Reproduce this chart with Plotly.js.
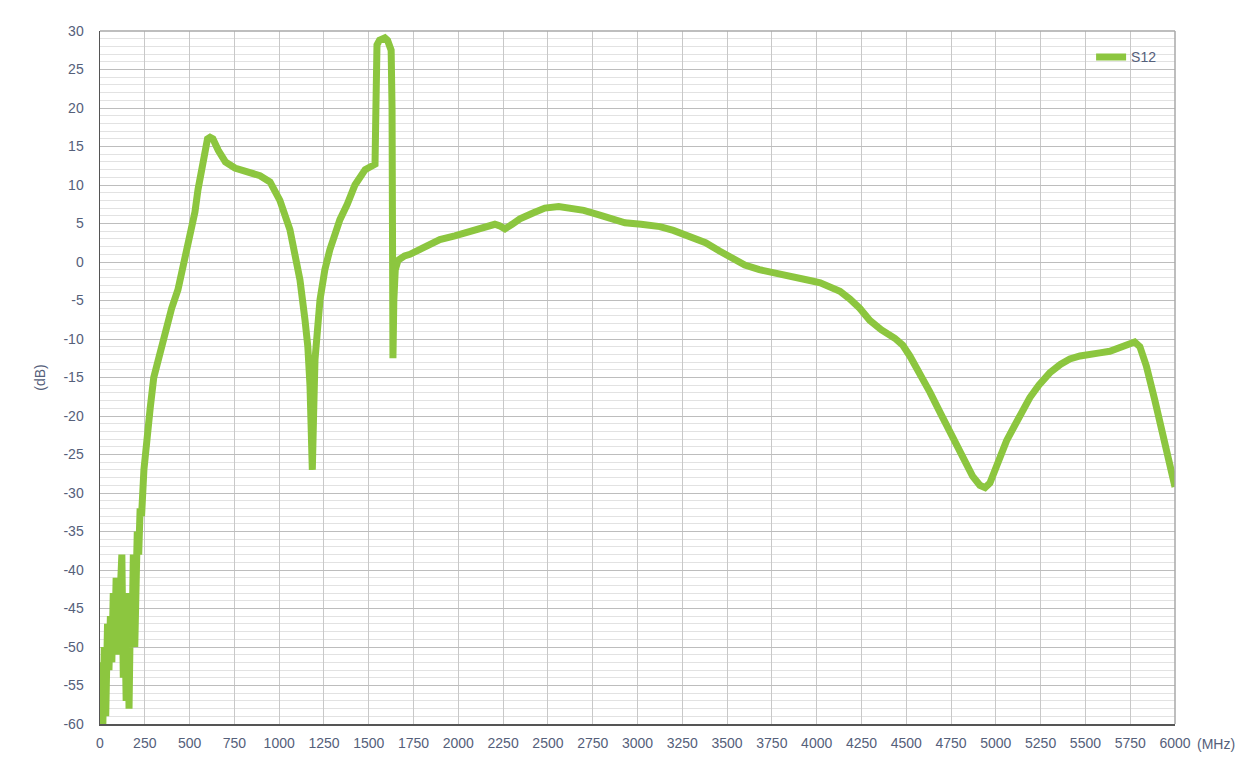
<!DOCTYPE html>
<html>
<head>
<meta charset="utf-8">
<script src="https://cdn.plot.ly/plotly-3.0.1.min.js"></script>
<style>html,body{margin:0;padding:0;background:#fff;}#chart{width:1255px;height:771px;}</style>
</head>
<body>
<div id="chart"></div>
<script>
const seriesName = 'S12';
const freqMHz = [
  0, 8, 16, 24, 32, 42, 50, 58, 66, 74, 82, 90, 98, 106, 114, 122, 130, 138, 146, 154, 162, 170, 178, 186, 194, 200, 208, 216, 224, 232, 245, 260, 280, 300, 330, 363, 400, 435, 470, 502, 530, 547, 570, 586, 600, 614, 630, 660, 700, 753, 809, 850, 893, 949, 1004, 1060, 1116, 1144, 1160, 1172, 1180, 1185, 1192, 1200, 1228, 1255, 1283, 1339, 1380, 1423, 1480, 1520, 1535, 1540, 1546, 1560, 1590, 1605, 1625, 1630, 1635, 1640, 1648, 1663, 1700, 1730, 1800, 1897, 1980, 2065, 2140, 2204, 2230, 2260, 2300, 2344, 2420, 2483, 2560, 2623, 2700, 2790, 2860, 2930, 3020, 3125, 3200, 3292, 3380, 3460, 3530, 3599, 3680, 3767, 3860, 3962, 4020, 4074, 4130, 4185, 4240, 4297, 4360, 4436, 4480, 4520, 4580, 4632, 4690, 4743, 4790, 4827, 4870, 4911, 4940, 4967, 4990, 5022, 5060, 5106, 5150, 5190, 5240, 5301, 5360, 5413, 5470, 5525, 5580, 5636, 5700, 5748, 5775, 5804, 5840, 5887, 5915, 5943, 5970, 6000
];
const s12dB = [
  -60, -52, -60, -50, -59, -47, -53, -46, -52, -43, -50, -41, -51, -46, -44, -38, -54, -45, -57, -43, -58, -45, -50, -38, -50, -37, -35, -38, -32, -33, -27, -23, -19, -15, -12, -8.8, -6, -3.6, 0, 2.9, 6.5, 9.4, 12.5, 14.5, 16, 16.2, 16, 14.5, 13, 12.2, 11.8, 11.6, 11.2, 10.4, 8.0, 4.2, -2.3, -7.5, -11, -16, -22, -27, -20, -12.7, -4.9, -1, 1.6, 5.5, 7.5, 10, 12, 12.6, 12.7, 20, 28.2, 28.8, 29.1, 28.8, 27.5, 20, -12.5, -5, -1, 0.2, 0.8, 1.0, 1.8, 2.9, 3.4, 3.9, 4.4, 4.9, 4.7, 4.3, 4.9, 5.6, 6.4, 7.0, 7.2, 7.0, 6.7, 6.1, 5.6, 5.1, 4.9, 4.6, 4.1, 3.4, 2.5, 1.4, 0.5, -0.4, -1.0, -1.5, -2.0, -2.4, -2.7, -3.2, -3.8, -4.8, -6.0, -7.6, -8.8, -9.9, -10.8, -12.2, -14.5, -16.9, -19.6, -21.9, -24.2, -25.8, -27.8, -29.0, -29.3, -28.7, -27.3, -25.0, -23.2, -21.2, -19.3, -17.6, -16.0, -14.4, -13.3, -12.6, -12.2, -11.9, -11.8, -11.6, -11.1, -10.5, -10.4, -11.0, -13.5, -17.9, -20.5, -23.1, -26.0, -29.2
];
const xTicks = [0,250,500,750,1000,1250,1500,1750,2000,2250,2500,2750,3000,3250,3500,3750,4000,4250,4500,4750,5000,5250,5500,5750,6000];
const yTicks = [-60,-55,-50,-45,-40,-35,-30,-25,-20,-15,-10,-5,0,5,10,15,20,25,30];

const fontFam = 'Liberation Sans, Arial, sans-serif';
const tickFont = {family: fontFam, size: 14, color: '#55607a'};

const trace = {
  x: freqMHz, y: s12dB, type: 'scatter', mode: 'lines', name: seriesName,
  line: {color: '#8cc63f', width: 7, shape: 'linear'}
};

const layout = {
  width: 1255, height: 771,
  margin: {l: 100, r: 80, t: 31, b: 47},
  paper_bgcolor: '#ffffff', plot_bgcolor: '#ffffff',
  showlegend: true,
  legend: {x: 0.988, y: 0.985, xanchor: 'right', yanchor: 'top', bgcolor: 'rgba(255,255,255,0)',
           font: {family: fontFam, size: 14, color: '#55607a'}},
  xaxis: {
    range: [0, 6000], tickvals: xTicks, ticktext: xTicks.map(String),
    showgrid: true, gridcolor: '#c8c8c8', gridwidth: 1,
    showline: true, linecolor: '#555', linewidth: 1.5, mirror: false,
    zeroline: false, ticks: '', tickfont: tickFont, ticklabelstandoff: 6, fixedrange: true
  },
  yaxis: {
    range: [-60, 30], tickvals: yTicks, ticktext: yTicks.map(String),
    showgrid: true, gridcolor: '#bdbdbd', gridwidth: 1,
    minor: {dtick: 1, showgrid: true, gridcolor: '#e2e2e2', gridwidth: 1, ticks: ''},
    showline: true, linecolor: '#555', linewidth: 1.5, mirror: false,
    zeroline: false, ticks: '', tickfont: tickFont, ticklabelstandoff: 12,
    title: {text: '(dB)', font: {family: fontFam, size: 14, color: '#55607a'}, standoff: 14},
    fixedrange: true
  },
  shapes: [
    {type: 'line', xref: 'paper', yref: 'paper', x0: 0, x1: 1, y0: 1, y1: 1, line: {color: '#a8a8a8', width: 1.5}},
    {type: 'line', xref: 'paper', yref: 'paper', x0: 1, x1: 1, y0: 0, y1: 1, line: {color: '#a8a8a8', width: 1.5}}
  ],
  annotations: [
    {text: '(MHz)', xref: 'paper', yref: 'paper', x: 1, y: 0, xanchor: 'left', yanchor: 'top', xshift: 20, yshift: -10,
     showarrow: false, font: {family: fontFam, size: 14, color: '#55607a'}}
  ]
};

Plotly.newPlot('chart', [trace], layout, {displayModeBar: false, staticPlot: true});
</script>
</body>
</html>
